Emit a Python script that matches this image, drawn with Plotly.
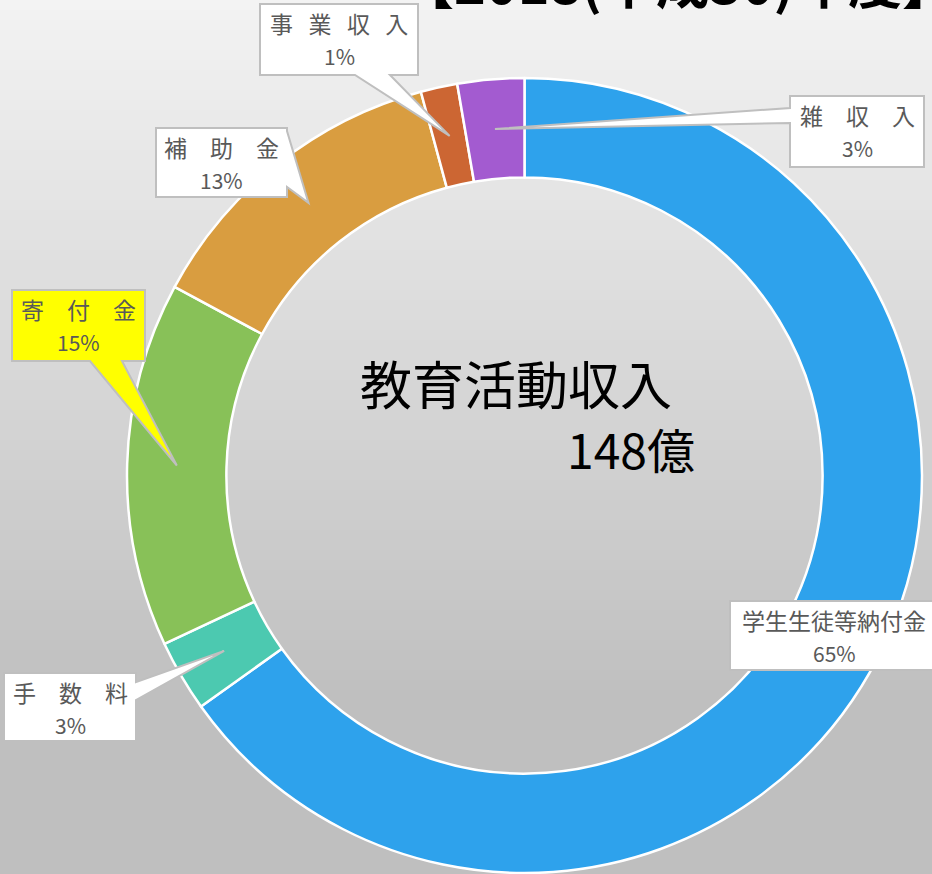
import math
import plotly.graph_objects as go

# ---------------- data ----------------
categories = ["学生生徒等納付金", "手数料", "寄付金", "補助金", "事業収入", "雑収入"]
values_oku = [96.2, 4.3, 21.9, 19.1, 2.2, 4.0]          # 億円
slice_colors = ["#2EA2EC", "#4CC9B0", "#88C158", "#D99D40", "#CC6633", "#A35BD0"]
center_title = "教育活動収入"
unit = "億"
year_title = "【2018(平成30)年度】"

# ---------------- layout constants ----------------
W, H = 932, 874
CX, CY, R = 524.5, 475.5, 397.5
HOLE = 0.75
FONT = "Noto Sans CJK JP"
LABEL_COLOR = "#595959"


def px(x):
    return x / W


def py(y):
    return 1 - y / H


# callout boxes (pixel layout): box, wedge side, wedge base range, fill
callouts = {
    "学生生徒等納付金": dict(box=(730, 601, 938, 670), side=None, base=None, fill="white", gap=""),
    "手数料": dict(box=(4, 673, 136, 741), side="right", base=(682, 700), fill="white", gap="\u3000"),
    "寄付金": dict(box=(12, 290, 145, 361), side="bottom", base=(90, 122), fill="#FFFF00", gap="\u3000"),
    "補助金": dict(box=(156, 128, 287, 197), side="right", base=(131, 187), fill="white", gap="\u3000"),
    "事業収入": dict(box=(260, 4, 418, 75), side="bottom", base=(355, 390), fill="white", gap="\u00a0" * 3),
    "雑収入": dict(box=(790, 96, 924, 167), side="left", base=(108, 123), fill="white", gap="\u3000"),
}

fig = go.Figure()

fig.add_trace(go.Pie(
    labels=categories,
    values=values_oku,
    hole=HOLE,
    sort=False,
    direction="clockwise",
    rotation=0,
    marker=dict(colors=slice_colors, line=dict(color="white", width=2.5)),
    textinfo="none",
    hoverinfo="label+percent",
    domain=dict(x=[px(CX - R), px(CX + R)], y=[py(CY + R), py(CY - R)]),
    showlegend=False,
))

shapes = []
# background gradient (light grey at top to darker grey lower down)
top_c, bot_c, grad_end = 243, 191, 700
step = 10
for y in range(0, H, step):
    t = min(y + step / 2, grad_end) / grad_end
    c = round(top_c + (bot_c - top_c) * t)
    shapes.append(dict(type="rect", xref="paper", yref="paper",
                       x0=0, x1=1, y0=py(min(y + step + 1, H)), y1=py(y),
                       fillcolor=f"rgb({c},{c},{c})", line=dict(width=0), layer="below"))


def callout_path(box, side, base, tip):
    x0, y0, x1, y1 = box
    pts = [(x0, y0)]
    if side == "top":
        pts += [(base[0], y0), tip, (base[1], y0)]
    pts.append((x1, y0))
    if side == "right":
        pts += [(x1, base[0]), tip, (x1, base[1])]
    pts.append((x1, y1))
    if side == "bottom":
        pts += [(base[1], y1), tip, (base[0], y1)]
    pts.append((x0, y1))
    if side == "left":
        pts += [(x0, base[1]), tip, (x0, base[0])]
    return "M " + " L ".join(f"{px(x):.5f},{py(y):.5f}" for x, y in pts) + " Z"


annotations = []
total = sum(values_oku)
r_mid = R * (1 + HOLE) / 2
cum = 0.0
for cat, v in zip(categories, values_oku):
    mid = (cum + v / 2) / total * 2 * math.pi
    cum += v
    tip = (CX + r_mid * math.sin(mid), CY - r_mid * math.cos(mid))
    spec = callouts[cat]
    x0, y0, x1, y1 = spec["box"]
    shapes.append(dict(type="path", xref="paper", yref="paper",
                       path=callout_path(spec["box"], spec["side"], spec["base"], tip),
                       fillcolor=spec["fill"], line=dict(color="#BFBFBF", width=2),
                       layer="above"))
    pct = round(v / total * 100)
    cxb = (x0 + x1) / 2
    annotations.append(dict(x=px(cxb), y=py(y0 + 19), xref="paper", yref="paper",
                            text=spec["gap"].join(cat), showarrow=False,
                            xanchor="center", yanchor="middle",
                            font=dict(family=FONT, size=23, color=LABEL_COLOR)))
    annotations.append(dict(x=px(cxb), y=py(y0 + 52), xref="paper", yref="paper",
                            text=f"{pct}%", showarrow=False,
                            xanchor="center", yanchor="middle",
                            font=dict(family=FONT, size=21, color=LABEL_COLOR)))

# centre text
annotations.append(dict(x=px(516), y=py(382), xref="paper", yref="paper",
                        text=center_title, showarrow=False,
                        xanchor="center", yanchor="middle",
                        font=dict(family=FONT, size=52, color="black")))
annotations.append(dict(x=px(697), y=py(448), xref="paper", yref="paper",
                        text=f"{round(total)}{unit}", showarrow=False,
                        xanchor="right", yanchor="middle",
                        font=dict(family=FONT, size=48, color="black")))
# year title (mostly cut off at top edge)
annotations.append(dict(x=px(678), y=py(-19), xref="paper", yref="paper",
                        text=f"<b>{year_title}</b>", showarrow=False,
                        xanchor="center", yanchor="middle",
                        font=dict(family=FONT, size=54, color="black")))

fig.update_layout(
    width=W, height=H,
    margin=dict(l=0, r=0, t=0, b=0),
    paper_bgcolor="#E0E0E0",
    plot_bgcolor="rgba(0,0,0,0)",
    shapes=shapes,
    annotations=annotations,
    showlegend=False,
)

fig.write_html(
    "out.html",
    config={"displayModeBar": False},
    post_script="document.body.style.margin='0';document.body.style.padding='0';"
                "document.body.style.overflow='hidden';",
)
